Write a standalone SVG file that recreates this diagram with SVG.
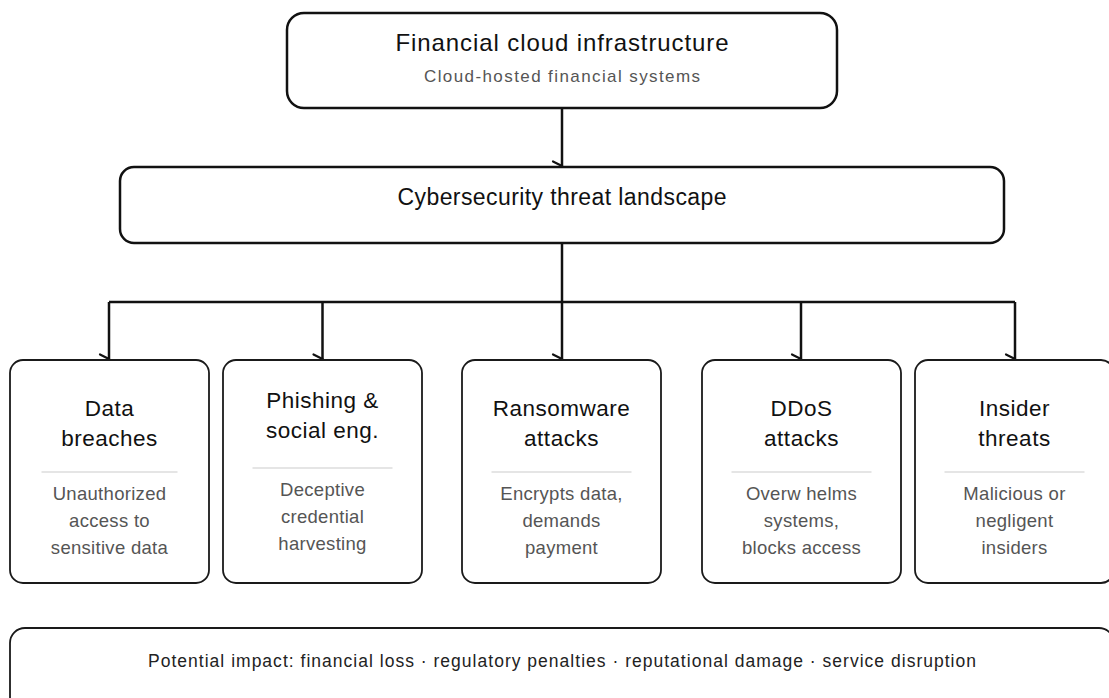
<svg xmlns="http://www.w3.org/2000/svg" width="1109" height="698" viewBox="0 0 1109 698">
  <defs>
    <style>
      .box { fill: #ffffff; stroke: #111111; stroke-width: 2.5; }
      .card { fill: #ffffff; stroke: #1a1a1a; stroke-width: 1.8; }
      .rule { stroke: #dddddd; stroke-width: 1.5; }
      .wire { fill: none; stroke: #111111; stroke-width: 2.5; }
      text { font-family: "Liberation Sans", Arial, Helvetica, sans-serif; text-anchor: middle; }
      .head { font-size: 24px; fill: #111111; }
      .sub { font-size: 17px; fill: #555555; }
      .title { font-size: 22.5px; fill: #111111; letter-spacing: 0.5px; }
      .desc { font-size: 18.5px; fill: #555555; letter-spacing: 0.3px; }
      .foot { font-size: 17.5px; fill: #222222; }
    </style>
    <!-- single-sided barb used as the arrow tip on every connector -->
    <marker id="barb" markerUnits="userSpaceOnUse" viewBox="0 0 20 20" markerWidth="20" markerHeight="20" refX="10" refY="10" orient="auto" overflow="visible">
      <path d="M10,10 L5.5,19" fill="none" stroke="#111111" stroke-width="2.2" stroke-linecap="round"/>
    </marker>
  </defs>

  <rect width="1109" height="698" fill="#ffffff"/>

  <!-- connectors -->
  <g id="connectors">
    <path class="wire" d="M562,108 L562,166" marker-end="url(#barb)"/>
    <path class="wire" d="M562,243 L562,359" marker-end="url(#barb)"/>
    <path class="wire" d="M109,302 L1015,302"/>
    <path class="wire" d="M109,302 L109,359" marker-end="url(#barb)"/>
    <path class="wire" d="M322.5,302 L322.5,359" marker-end="url(#barb)"/>
    <path class="wire" d="M801,302 L801,359" marker-end="url(#barb)"/>
    <path class="wire" d="M1015,302 L1015,359" marker-end="url(#barb)"/>
  </g>

  <!-- root -->
  <g id="node-infrastructure">
    <rect class="box" x="287" y="13" width="550" height="95" rx="17"/>
    <text class="head" x="562" y="51" textLength="333" lengthAdjust="spacing">Financial cloud infrastructure</text>
    <text class="sub" x="562" y="82" textLength="276" lengthAdjust="spacing">Cloud-hosted financial systems</text>
  </g>

  <g id="node-landscape">
    <rect class="box" x="120" y="167" width="884" height="76" rx="14"/>
    <text class="head" style="font-size:23px" x="562" y="205" textLength="329" lengthAdjust="spacing">Cybersecurity threat landscape</text>
  </g>

  <!-- threat categories -->
  <g id="node-data-breaches">
    <rect class="card" x="10" y="360" width="199" height="223" rx="13"/>
    <text class="title" x="109.5" y="416">Data</text>
    <text class="title" x="109.5" y="446">breaches</text>
    <line class="rule" x1="41.5" y1="472" x2="177.5" y2="472"/>
    <text class="desc" x="109.5" y="500">Unauthorized</text>
    <text class="desc" x="109.5" y="527">access to</text>
    <text class="desc" x="109.5" y="554">sensitive data</text>
  </g>

  <g id="node-phishing">
    <rect class="card" x="223" y="360" width="199" height="223" rx="13"/>
    <text class="title" x="322.5" y="408">Phishing &amp;</text>
    <text class="title" x="322.5" y="438">social eng.</text>
    <line class="rule" x1="252.5" y1="468" x2="392.5" y2="468"/>
    <text class="desc" x="322.5" y="496">Deceptive</text>
    <text class="desc" x="322.5" y="523">credential</text>
    <text class="desc" x="322.5" y="550">harvesting</text>
  </g>

  <g id="node-ransomware">
    <rect class="card" x="462" y="360" width="199" height="223" rx="13"/>
    <text class="title" x="561.5" y="416">Ransomware</text>
    <text class="title" x="561.5" y="446">attacks</text>
    <line class="rule" x1="491.5" y1="472" x2="631.5" y2="472"/>
    <text class="desc" x="561.5" y="500">Encrypts data,</text>
    <text class="desc" x="561.5" y="527">demands</text>
    <text class="desc" x="561.5" y="554">payment</text>
  </g>

  <g id="node-ddos">
    <rect class="card" x="702" y="360" width="199" height="223" rx="13"/>
    <text class="title" x="801.5" y="416">DDoS</text>
    <text class="title" x="801.5" y="446">attacks</text>
    <line class="rule" x1="731.5" y1="472" x2="871.5" y2="472"/>
    <text class="desc" x="801.5" y="500">Overw helms</text>
    <text class="desc" x="801.5" y="527">systems,</text>
    <text class="desc" x="801.5" y="554">blocks access</text>
  </g>

  <g id="node-insider">
    <rect class="card" x="915" y="360" width="199" height="223" rx="13"/>
    <text class="title" x="1014.5" y="416">Insider</text>
    <text class="title" x="1014.5" y="446">threats</text>
    <line class="rule" x1="944.5" y1="472" x2="1084.5" y2="472"/>
    <text class="desc" x="1014.5" y="500">Malicious or</text>
    <text class="desc" x="1014.5" y="527">negligent</text>
    <text class="desc" x="1014.5" y="554">insiders</text>
  </g>

  <!-- impact summary -->
  <g id="node-impact">
    <rect class="card" x="10" y="628" width="1104" height="100" rx="15"/>
    <text class="foot" x="562" y="667" textLength="828" lengthAdjust="spacing">Potential impact: financial loss · regulatory penalties · reputational damage · service disruption</text>
  </g>
</svg>
